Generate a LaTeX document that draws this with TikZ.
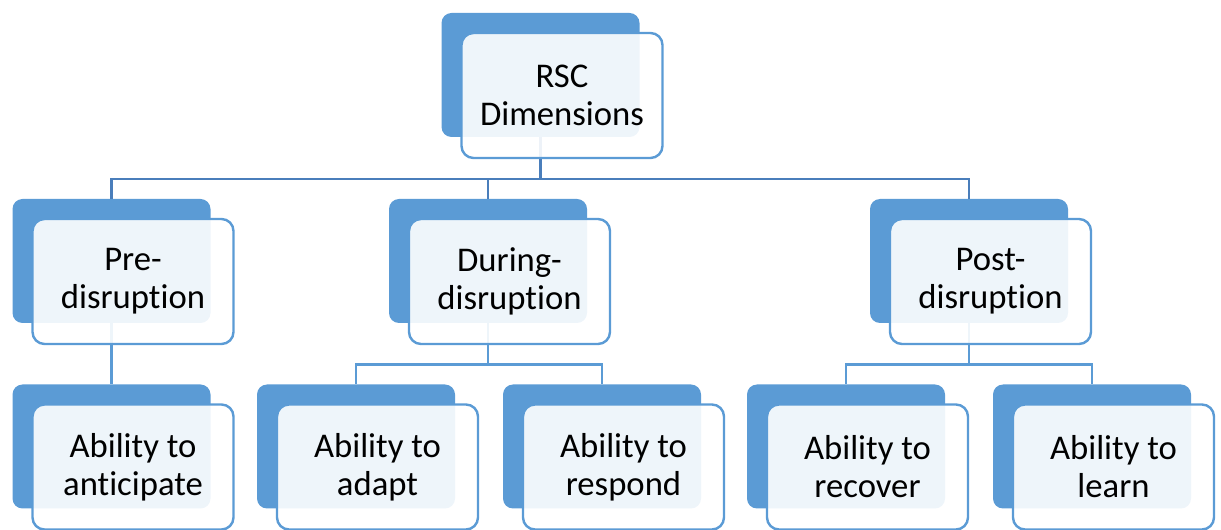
\documentclass[tikz,border=0pt]{standalone}
\usepackage{fontspec}
\setmainfont{Carlito}[Ligatures=NoCommon]
\definecolor{boxblue}{RGB}{91,155,213}
\definecolor{linkblue}{RGB}{74,126,187}
\tikzstyle{back}=[fill=boxblue, rounded corners=7.5pt, minimum width=148.5pt,
    minimum height=93pt, inner sep=0pt]
\tikzstyle{front}=[draw=boxblue, line width=1.8pt, fill=white, fill opacity=0.9,
    text opacity=1, rounded corners=9pt, minimum width=150.75pt,
    minimum height=93.75pt, inner sep=0pt, align=center,
    font=\fontsize{26}{28.5}\selectfont]
\tikzstyle{edge} = [draw, line width=1.9pt, linkblue]
\tikzstyle{subedge} = [draw, line width=1.9pt, boxblue]

\begin{document}
\begin{tikzpicture}[x=0.75pt, y=-0.75pt]
  \useasboundingbox (0,0) rectangle (1221,530);

  \foreach \name/\x/\y in {rsc/540.5/75, pre/111.5/261, during/488/261,
                           post/969/261, anticipate/111.5/446.5, adapt/356/446.5,
                           respond/602/446.5, recover/846/446.5, learn/1092/446.5}
        \node[back] (\name) at (\x,\y) {};

  \coordinate (bus) at (540.5,179);
  \foreach \b in {pre, during, post}
      \path[edge] (rsc.south) -- (bus) -| (\b.north);
  \foreach \a/\b in {pre/anticipate, during/adapt, during/respond,
                     post/recover, post/learn}
      \path[subedge] (\a.south) -- ++(0,41) -| (\b.north);

  \foreach \name/\x/\y/\txt in {rsc/540.5/75/{RSC\\Dimensions},
                                pre/111.5/261/{Pre-\\disruption},
                                during/488/261/{During-\\disruption},
                                post/969/261/{Post-\\disruption},
                                anticipate/111.5/446.5/{Ability to\\anticipate},
                                adapt/356/446.5/{Ability to\\adapt},
                                respond/602/446.5/{Ability to\\respond},
                                recover/846/446.5/{Ability to\\recover},
                                learn/1092/446.5/{Ability to\\learn}}
        \node[front] (\name-f) at (\x+21.5,\y+20.5) {\txt};
\end{tikzpicture}
\end{document}
